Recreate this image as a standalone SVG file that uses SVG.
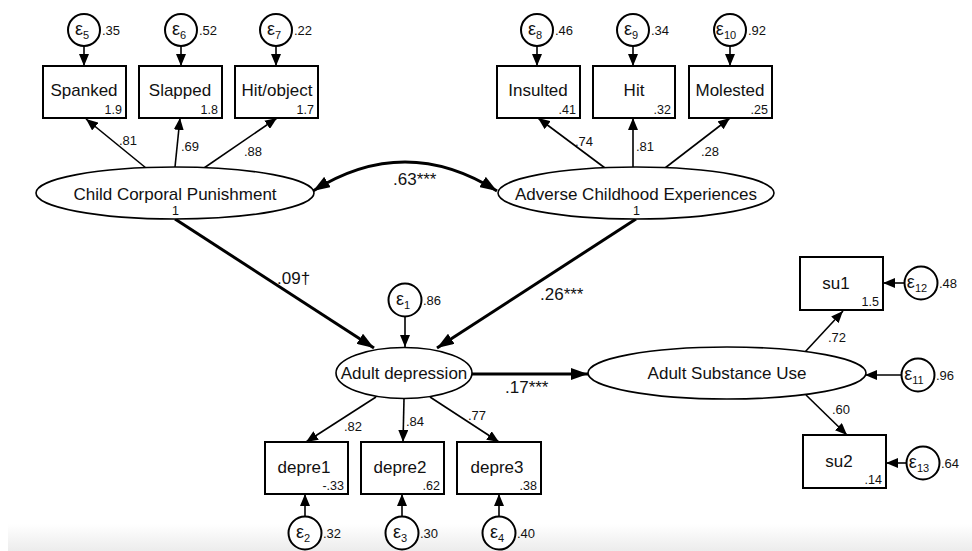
<svg xmlns="http://www.w3.org/2000/svg" width="972" height="551" viewBox="0 0 972 551">
<defs>
<linearGradient id="bg" x1="0" y1="0" x2="0" y2="1">
<stop offset="0" stop-color="#ffffff"/>
<stop offset="1" stop-color="#ececec"/>
</linearGradient>
<marker id="ah" markerUnits="userSpaceOnUse" markerWidth="12" markerHeight="10" refX="12" refY="5" orient="auto-start-reverse" viewBox="0 0 12 10">
<path d="M0,0 L12,5 L0,10 Z" fill="#000"/>
</marker>
<marker id="ahb" markerUnits="userSpaceOnUse" markerWidth="17" markerHeight="12" refX="17" refY="6" orient="auto-start-reverse" viewBox="0 0 17 12">
<path d="M0,0 L17,6 L0,12 Z" fill="#000"/>
</marker>
</defs>
<style>
text{font-family:"Liberation Sans",Arial,sans-serif;fill:#111}
.box{fill:#fff;stroke:#000;stroke-width:2}
.err{fill:#fff;stroke:#000;stroke-width:2}
.lat{fill:#fff;stroke:#000;stroke-width:1.6}
.lbl{font-size:17px;text-anchor:middle}
.num{font-size:12.5px;text-anchor:end}
.val{font-size:13px}
.eps{font-size:18px;text-anchor:middle}
.sub{font-size:11px}
.ld{stroke:#000;stroke-width:1.6;fill:none;marker-end:url(#ah)}
.st{stroke:#000;stroke-width:3;fill:none;marker-end:url(#ahb)}
.coef{font-size:13px}
.bcoef{font-size:17px}
</style>
<rect x="0" y="0" width="972" height="551" fill="#fff"/>
<rect x="8" y="524" width="964" height="27" fill="url(#bg)"/>

<g id="connectors">
<line class="ld" x1="84" y1="46" x2="84" y2="66"/>
<line class="ld" x1="181" y1="46" x2="181" y2="66"/>
<line class="ld" x1="276" y1="46" x2="276" y2="66"/>
<line class="ld" x1="537" y1="46" x2="537" y2="66"/>
<line class="ld" x1="633" y1="46" x2="633" y2="66"/>
<line class="ld" x1="730" y1="46" x2="730" y2="66"/>
<line class="ld" x1="146" y1="168" x2="86" y2="119"/>
<line class="ld" x1="175" y1="167" x2="180" y2="118"/>
<line class="ld" x1="204" y1="168" x2="277" y2="118"/>
<line class="ld" x1="605" y1="168" x2="538" y2="118"/>
<line class="ld" x1="633" y1="167" x2="633" y2="118"/>
<line class="ld" x1="665" y1="168" x2="730" y2="118"/>
<path d="M313,191 Q405,133 497,191" stroke="#000" stroke-width="3" fill="none" marker-start="url(#ahb)" marker-end="url(#ahb)"/>
<line class="st" x1="175" y1="219" x2="374" y2="348"/>
<line class="st" x1="636" y1="219" x2="437" y2="348"/>
<line class="st" x1="472" y1="374" x2="588" y2="374"/>
<line class="ld" x1="405" y1="317" x2="405" y2="347"/>
<line class="ld" x1="376" y1="397" x2="306" y2="442"/>
<line class="ld" x1="404" y1="399" x2="403" y2="442"/>
<line class="ld" x1="430" y1="397" x2="499" y2="442"/>
<line class="ld" x1="305" y1="516" x2="305" y2="494"/>
<line class="ld" x1="402" y1="516" x2="402" y2="494"/>
<line class="ld" x1="499" y1="516" x2="499" y2="494"/>
<line class="ld" x1="805" y1="352" x2="843" y2="311"/>
<line class="ld" x1="806" y1="395" x2="847" y2="435"/>
<line class="ld" x1="904" y1="283" x2="883" y2="283"/>
<line class="ld" x1="901" y1="375" x2="865" y2="375"/>
<line class="ld" x1="906" y1="463" x2="886" y2="463"/>
<text class="coef" x="119" y="145">.81</text>
<text class="coef" x="181" y="151">.69</text>
<text class="coef" x="244" y="156">.88</text>
<text class="coef" x="575" y="146">.74</text>
<text class="coef" x="636" y="151">.81</text>
<text class="coef" x="701" y="156">.28</text>
<text class="bcoef" x="393" y="185">.63***</text>
<text class="bcoef" x="277" y="284">.09†</text>
<text class="bcoef" x="540" y="300">.26***</text>
<text class="bcoef" x="505" y="393">.17***</text>
<text class="coef" x="344" y="431">.82</text>
<text class="coef" x="406" y="426">.84</text>
<text class="coef" x="468" y="420">.77</text>
<text class="coef" x="828" y="342">.72</text>
<text class="coef" x="832" y="414">.60</text>
</g>

<g id="e5"><circle class="err" cx="84" cy="30" r="16"/><text class="eps" x="82" y="35">ε<tspan class="sub" dy="4">5</tspan></text><text class="val" x="102" y="35">.35</text></g>
<g id="e6"><circle class="err" cx="181" cy="30" r="16"/><text class="eps" x="179" y="35">ε<tspan class="sub" dy="4">6</tspan></text><text class="val" x="199" y="35">.52</text></g>
<g id="e7"><circle class="err" cx="276" cy="30" r="16"/><text class="eps" x="274" y="35">ε<tspan class="sub" dy="4">7</tspan></text><text class="val" x="294" y="35">.22</text></g>
<g id="e8"><circle class="err" cx="537" cy="30" r="16"/><text class="eps" x="535" y="35">ε<tspan class="sub" dy="4">8</tspan></text><text class="val" x="555" y="35">.46</text></g>
<g id="e9"><circle class="err" cx="633" cy="30" r="16"/><text class="eps" x="631" y="35">ε<tspan class="sub" dy="4">9</tspan></text><text class="val" x="651" y="35">.34</text></g>
<g id="e10"><circle class="err" cx="730" cy="30" r="16"/><text class="eps" x="726" y="35">ε<tspan class="sub" dy="4">10</tspan></text><text class="val" x="748" y="35">.92</text></g>

<g id="spanked"><rect class="box" x="43" y="66" width="83" height="52"/><text class="lbl" x="84" y="96">Spanked</text><text class="num" x="122" y="114">1.9</text></g>
<g id="slapped"><rect class="box" x="139" y="66" width="83" height="52"/><text class="lbl" x="180" y="96">Slapped</text><text class="num" x="218" y="114">1.8</text></g>
<g id="hitobject"><rect class="box" x="235" y="66" width="83" height="52"/><text class="lbl" x="277" y="96">Hit/object</text><text class="num" x="314" y="114">1.7</text></g>
<g id="insulted"><rect class="box" x="497" y="66" width="83" height="52"/><text class="lbl" x="538" y="96">Insulted</text><text class="num" x="576" y="114">.41</text></g>
<g id="hit"><rect class="box" x="593" y="66" width="82" height="52"/><text class="lbl" x="634" y="96">Hit</text><text class="num" x="671" y="114">.32</text></g>
<g id="molested"><rect class="box" x="689" y="66" width="83" height="52"/><text class="lbl" x="730" y="96">Molested</text><text class="num" x="768" y="114">.25</text></g>

<g id="ccp"><ellipse class="lat" cx="175" cy="193" rx="139" ry="26"/><text class="lbl" x="175" y="200">Child Corporal Punishment</text><text class="num" x="179" y="215">1</text></g>
<g id="ace"><ellipse class="lat" cx="636" cy="193" rx="138" ry="26"/><text class="lbl" x="636" y="200">Adverse Childhood Experiences</text><text class="num" x="640" y="215">1</text></g>

<g id="e1"><circle class="err" cx="405" cy="300" r="16.5"/><text class="eps" x="403" y="305">ε<tspan class="sub" dy="4">1</tspan></text><text class="val" x="423" y="305">.86</text></g>
<g id="adep"><ellipse class="lat" cx="404" cy="373" rx="68" ry="25.5"/><text class="lbl" x="404" y="379">Adult depression</text></g>
<g id="asu"><ellipse class="lat" cx="727" cy="373" rx="139" ry="26"/><text class="lbl" x="727" y="379">Adult Substance Use</text></g>

<g id="depre1"><rect class="box" x="265" y="442" width="83" height="52"/><text class="lbl" x="304" y="473">depre1</text><text class="num" x="344" y="490">-.33</text></g>
<g id="depre2"><rect class="box" x="361" y="442" width="83" height="52"/><text class="lbl" x="400" y="473">depre2</text><text class="num" x="440" y="490">.62</text></g>
<g id="depre3"><rect class="box" x="457" y="442" width="84" height="52"/><text class="lbl" x="497" y="473">depre3</text><text class="num" x="537" y="490">.38</text></g>

<g id="e2"><circle class="err" cx="305" cy="533" r="16.5"/><text class="eps" x="303" y="538">ε<tspan class="sub" dy="4">2</tspan></text><text class="val" x="323" y="538">.32</text></g>
<g id="e3"><circle class="err" cx="402" cy="533" r="16.5"/><text class="eps" x="400" y="538">ε<tspan class="sub" dy="4">3</tspan></text><text class="val" x="420" y="538">.30</text></g>
<g id="e4"><circle class="err" cx="499" cy="533" r="16.5"/><text class="eps" x="497" y="538">ε<tspan class="sub" dy="4">4</tspan></text><text class="val" x="517" y="538">.40</text></g>

<g id="su1"><rect class="box" x="800" y="257" width="83" height="53"/><text class="lbl" x="836" y="289">su1</text><text class="num" x="879" y="306">1.5</text></g>
<g id="su2"><rect class="box" x="803" y="435" width="83" height="53"/><text class="lbl" x="839" y="467">su2</text><text class="num" x="882" y="484">.14</text></g>

<g id="e12"><circle class="err" cx="921" cy="283" r="16.5"/><text class="eps" x="917" y="288">ε<tspan class="sub" dy="4">12</tspan></text><text class="val" x="939" y="288">.48</text></g>
<g id="e11"><circle class="err" cx="918" cy="375" r="16.5"/><text class="eps" x="914" y="380">ε<tspan class="sub" dy="4">11</tspan></text><text class="val" x="936" y="380">.96</text></g>
<g id="e13"><circle class="err" cx="923" cy="463" r="16.5"/><text class="eps" x="919" y="468">ε<tspan class="sub" dy="4">13</tspan></text><text class="val" x="941" y="468">.64</text></g>
</svg>
